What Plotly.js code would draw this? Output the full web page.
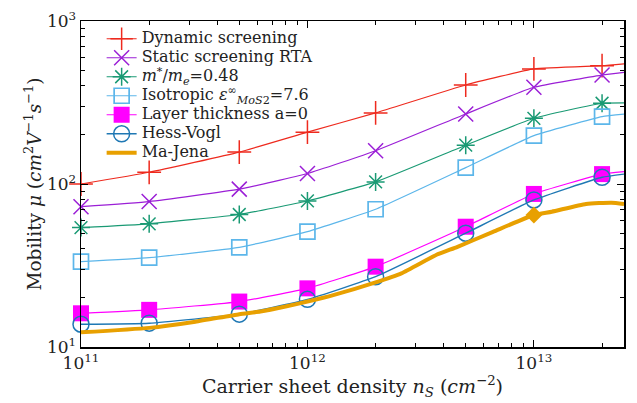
<!DOCTYPE html>
<html>
<head>
<meta charset="utf-8">
<script src="https://cdn.plot.ly/plotly-3.0.1.min.js"></script>
<style>html,body{margin:0;padding:0;background:#fff;}#chart{width:637px;height:403px;}</style>
</head>
<body>
<div id="chart"></div>
<script>
// Carrier sheet densities (cm^-2) where markers are drawn; last value is the axis edge (line only)
const density = [1e11, 2e11, 5e11, 1e12, 2e12, 5e12, 1e13, 2e13, 2.5e13];

const dynamicScreening = [100, 118, 157, 208, 273, 405, 508, 532, 546];
const staticScreeningRTA = [72.6, 78, 93, 116, 160, 269, 392, 466, 484];
const effectiveMass048 = [54, 57, 65, 78.7, 103, 173, 253, 313, 315];
const isotropicEps76 = [33.4, 35.3, 40.9, 51, 70, 126, 198, 259, 268];
const layerThickness0 = [16.1, 16.9, 19.0, 22.9, 31.1, 54.7, 86.9, 115, 119];
const hessVogl = [13.8, 14.0, 15.9, 19.6, 27.0, 49.9, 79.8, 110, 115];

const maJenaDensity = [1e11, 2e11, 3.2e11, 5e11, 6.2e11, 8e11, 1e12, 1.3e12, 2e12, 2.6e12, 3.7e12, 4.6e12, 6.6e12, 1e13, 1.2e13, 1.7e13, 2.2e13, 2.5e13];
const maJena = [12.3, 13.1, 14.3, 15.9, 16.5, 17.7, 19.0, 20.8, 24.9, 28.3, 36.7, 41.2, 50.9, 64.5, 67.6, 75.4, 76.8, 75.4];
const maJenaMarkerDensity = [1e13];
const maJenaMarker = [64.5];

const xTickVals = [1e11, 1e12, 1e13];
const xTickText = ['10<sup>11</sup>', '10<sup>12</sup>', '10<sup>13</sup>'];
const yTickVals = [10, 100, 1000];
const yTickText = ['10<sup>1</sup>', '10<sup>2</sup>', '10<sup>3</sup>'];

const seriesNames = [
  'Dynamic screening',
  'Static screening RTA',
  '<i>m</i><sup>*</sup>/<i>m</i><sub><i>e</i></sub>=0.48',
  'Isotropic <i>ε</i><sup>∞</sup><sub><i>MoS</i>2</sub>=7.6',
  'Layer thickness a=0',
  'Hess-Vogl',
  'Ma-Jena'
];

const FONT = 'DejaVu Serif';
// legend rows are sized from the legend font; the visible text is enlarged via span style
const big = s => '<span style="font-size:16px">' + s + '</span>';

// minor tick positions (2..9 x decade)
function minorTicks(lo, hi) {
  const out = [];
  for (let e = lo; e < hi; e++) for (let k = 2; k <= 9; k++) out.push(k * Math.pow(10, e));
  return out;
}

const shown = [0, 1, 2, 3, 4, 5, 6, 7];
function series(y, name, color, symbol, size, lineWidth, mlw) {
  const filled = symbol === 'square';
  return {
    x: density, y: y, name: big(name), type: 'scatter', mode: 'lines+markers',
    line: {color: color, width: lineWidth, shape: 'spline', smoothing: 0.4},
    marker: filled
      ? {symbol: symbol, size: size, color: color, line: {width: 0}}
      : {symbol: symbol, size: size, color: color, line: {color: color, width: mlw}},
    selectedpoints: shown,
    selected: {marker: {opacity: 1}},
    unselected: {marker: {opacity: 0}},
    cliponaxis: false
  };
}

const traces = [
  series(dynamicScreening, seriesNames[0], '#ee2a1e', 'cross-thin-open', 17, 1.2, 1.5),
  series(staticScreeningRTA, seriesNames[1], '#9b1fd6', 'x-thin-open', 15, 1.2, 1.5),
  series(effectiveMass048, seriesNames[2], '#1a9a74', 'asterisk-open', 15, 1.2, 1.5),
  series(isotropicEps76, seriesNames[3], '#5cb6ea', 'square-open', 15, 1.2, 1.7),
  series(layerThickness0, seriesNames[4], '#ff00ff', 'square', 16, 1.2, 0),
  series(hessVogl, seriesNames[5], '#1f78b4', 'circle-open', 16, 1.4, 1.5),
  {
    x: maJenaDensity, y: maJena, name: big(seriesNames[6]), type: 'scatter', mode: 'lines',
    line: {color: '#e8a000', width: 4, shape: 'spline', smoothing: 0.5},
    cliponaxis: true
  },
  {
    x: maJenaMarkerDensity, y: maJenaMarker, name: 'Ma-Jena point', type: 'scatter', mode: 'markers',
    marker: {symbol: 'diamond', size: 13, color: '#e8a000'}, showlegend: false
  }
];

const axisCommon = {
  type: 'log', showgrid: false, zeroline: false,
  showline: true, linecolor: '#000', linewidth: 1.5, mirror: 'ticks',
  ticks: 'inside', ticklen: 7, tickwidth: 1, tickcolor: '#000',
  tickmode: 'array',
  tickfont: {family: FONT, size: 17, color: '#222'}
};

const layout = {
  width: 637, height: 403,
  margin: {l: 81, r: 13, t: 21, b: 56},
  paper_bgcolor: '#fff', plot_bgcolor: '#fff',
  font: {family: FONT, color: '#222'},
  showlegend: true,
  legend: {
    x: 0.038, y: 0.99, xanchor: 'left', yanchor: 'top',
    bgcolor: 'rgba(0,0,0,0)', borderwidth: 0,
    font: {family: FONT, size: 11.5, color: '#222'},
    tracegroupgap: 0, itemwidth: 30
  },
  xaxis: Object.assign({}, axisCommon, {
    range: [11, Math.log10(2.5e13)],
    tickvals: xTickVals, ticktext: xTickText,
    minor: {tickmode: 'array', tickvals: minorTicks(11, 14), ticks: 'inside', ticklen: 4, tickwidth: 1, tickcolor: '#000', showgrid: false},
    title: {text: 'Carrier sheet density <i>n</i><sub><i>S</i></sub> (<i>cm</i><sup>−2</sup>)', font: {family: FONT, size: 19, color: '#222'}, standoff: 6}
  }),
  yaxis: Object.assign({}, axisCommon, {
    range: [1, 3],
    tickvals: yTickVals, ticktext: yTickText,
    minor: {tickmode: 'array', tickvals: minorTicks(1, 3), ticks: 'inside', ticklen: 4, tickwidth: 1, tickcolor: '#000', showgrid: false},
    title: {text: 'Mobility <i>μ</i> (<i>cm</i><sup>2</sup><i>V</i><sup>−1</sup><i>s</i><sup>−1</sup>)', font: {family: FONT, size: 18.5, color: '#222'}, standoff: 0}
  })
};

Plotly.newPlot('chart', traces, layout, {displayModeBar: false, staticPlot: true});
</script>
</body>
</html>
